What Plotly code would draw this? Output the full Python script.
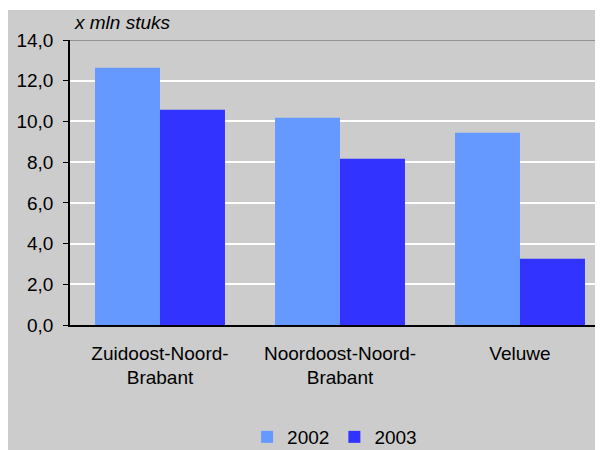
import plotly.graph_objects as go

regions = ["Zuidoost-Noord-<br>Brabant", "Noordoost-Noord-<br>Brabant", "Veluwe"]
years = ["2002", "2003"]
values_2002 = [12.64, 10.18, 9.44]
values_2003 = [10.57, 8.17, 3.25]
y_ticks = [0, 2, 4, 6, 8, 10, 12, 14]

colors = {"2002": "#6699ff", "2003": "#3333ff"}
font_family = "Liberation Sans, Arial, sans-serif"

fig = go.Figure()
for year, vals in zip(years, [values_2002, values_2003]):
    fig.add_trace(go.Bar(
        x=regions,
        y=vals,
        name=year,
        marker=dict(color=colors[year], line=dict(width=0)),
    ))

# thin white strip along the top edge
fig.add_shape(type="rect", xref="paper", yref="paper",
              x0=-0.2, x1=1.1, y0=1.105, y1=1.2,
              fillcolor="#ffffff", line=dict(width=0), layer="below")
# plot area top border
fig.add_shape(type="line", xref="paper", yref="y",
              x0=0, x1=1, y0=14, y1=14,
              line=dict(color="#808080", width=1.5))

fig.add_annotation(text="<i>x mln stuks</i>", xref="paper", yref="paper",
                   x=0.004, y=1.063, xanchor="left", yanchor="middle",
                   showarrow=False, font=dict(size=19, color="#000000"))

fig.update_layout(
    width=603, height=450,
    margin=dict(l=62, r=1, t=32, b=133),
    paper_bgcolor="#cccccc",
    plot_bgcolor="#cccccc",
    separators=",.",
    barmode="group",
    bargap=0.278,
    bargroupgap=0,
    font=dict(family=font_family, size=19, color="#000000"),
    showlegend=True,
    legend=dict(orientation="h", x=0.49, xanchor="center", y=-0.393,
                yanchor="middle", font=dict(size=19),
                bgcolor="rgba(0,0,0,0)", itemwidth=30),
)

fig.update_yaxes(
    range=[0, 14], tickvals=y_ticks, tickformat=".1f",
    showgrid=True, gridcolor="#ffffff", gridwidth=1.5,
    showline=True, linecolor="#000000", linewidth=1.5,
    ticks="outside", ticklen=5, tickcolor="#000000",
    zeroline=False, ticklabelstandoff=6,
)
fig.update_xaxes(
    range=[-0.5, 2.5],
    showline=True, linecolor="#000000", linewidth=1.5,
    showgrid=False, ticks="", ticklabelstandoff=10,
)

fig.write_html("out.html")
